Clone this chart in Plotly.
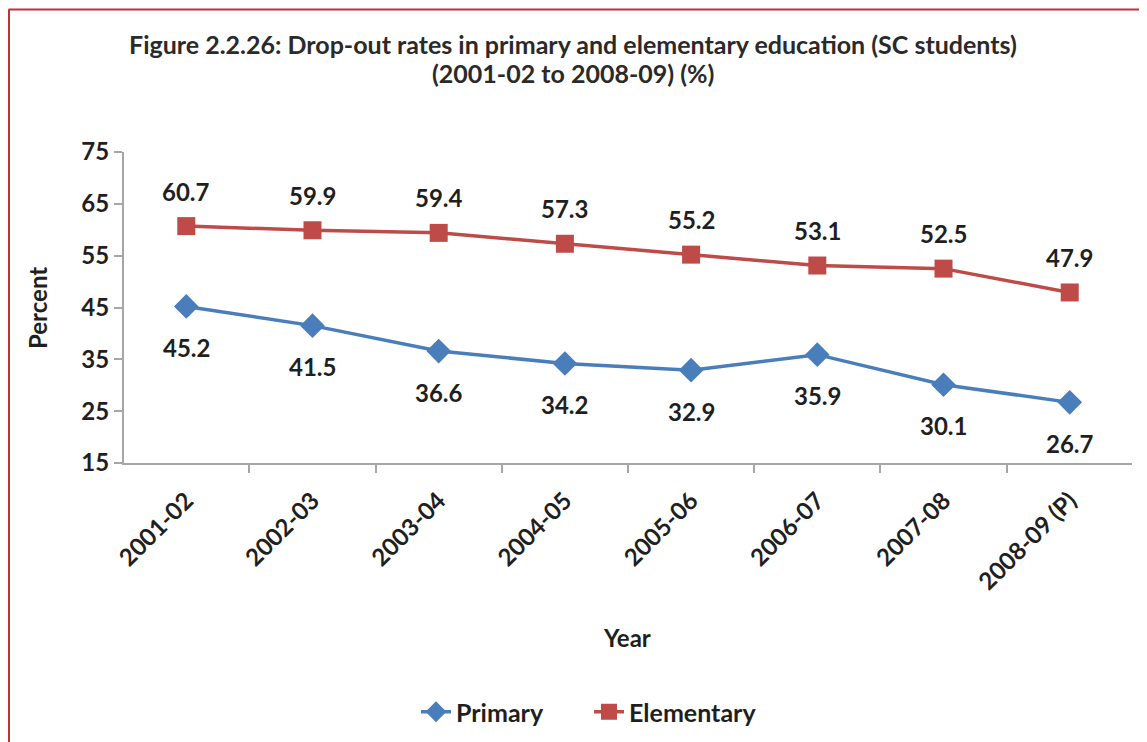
import plotly.graph_objects as go

years = ["2001-02", "2002-03", "2003-04", "2004-05", "2005-06", "2006-07", "2007-08", "2008-09 (P)"]
primary = [45.2, 41.5, 36.6, 34.2, 32.9, 35.9, 30.1, 26.7]
elementary = [60.7, 59.9, 59.4, 57.3, 55.2, 53.1, 52.5, 47.9]
y_ticks = [15, 25, 35, 45, 55, 65, 75]

FONT = "Lato, 'Open Sans', sans-serif"
BLUE = "#4A7EBB"
RED = "#BE4B48"
AXIS = "#A6A6A6"
TXT = "#1f1f1f"

# page body has an 8px default margin; screen coordinates below are compensated
OFF = 8
W, H = 1147, 742
ml, mt = 124 - OFF, 152 - OFF
pw = 1132 - 124
ph = 463 - 152
mr = W - ml - pw
mb = H - mt - ph


def px_x(x):
    return (x - OFF - ml) / pw


def px_y(y):
    return (mt + ph - (y - OFF)) / ph


fig = go.Figure()
fig.add_trace(go.Scatter(
    x=years, y=primary, name="Primary", mode="lines+markers",
    line=dict(color=BLUE, width=3.5),
    marker=dict(symbol="diamond", size=19, color=BLUE),
    legend="legend",
))
fig.add_trace(go.Scatter(
    x=years, y=elementary, name="Elementary", mode="lines+markers",
    line=dict(color=RED, width=3.5),
    marker=dict(symbol="square", size=18, color=RED),
    legend="legend2",
))

annotations = []
for yr, v in zip(years, elementary):
    annotations.append(dict(x=yr, y=v, text=f"{v:.1f}", showarrow=False, yshift=35,
                            font=dict(family=FONT, size=24, color=TXT, weight="bold")))
for yr, v in zip(years, primary):
    annotations.append(dict(x=yr, y=v, text=f"{v:.1f}", showarrow=False, yshift=-41,
                            font=dict(family=FONT, size=24, color=TXT, weight="bold")))

annotations.append(dict(xref="paper", yref="paper", x=px_x(573), y=px_y(44),
                        text="Figure 2.2.26: Drop-out rates in primary and elementary education (SC students)",
                        showarrow=False, xanchor="center", yanchor="middle",
                        font=dict(family=FONT, size=25, color="#2a2a2a", weight="bold")))
annotations.append(dict(xref="paper", yref="paper", x=px_x(573), y=px_y(73),
                        text="(2001-02 to 2008-09) (%)",
                        showarrow=False, xanchor="center", yanchor="middle",
                        font=dict(family=FONT, size=25, color="#2a2a2a", weight="bold")))
annotations.append(dict(xref="paper", yref="paper", x=px_x(37), y=px_y(308),
                        text="Percent", textangle=-90, showarrow=False,
                        xanchor="center", yanchor="middle",
                        font=dict(family=FONT, size=24, color=TXT, weight="bold")))
annotations.append(dict(xref="paper", yref="paper", x=px_x(627), y=px_y(637),
                        text="Year", showarrow=False,
                        xanchor="center", yanchor="middle",
                        font=dict(family=FONT, size=24, color=TXT, weight="bold")))

shapes = [
    dict(type="line", xref="paper", yref="paper", x0=px_x(8.5), x1=px_x(W + 20),
         y0=px_y(9.5), y1=px_y(9.5), line=dict(color="#C0313A", width=2)),
    dict(type="line", xref="paper", yref="paper", x0=px_x(9), x1=px_x(9),
         y0=px_y(9.5), y1=px_y(H + 20), line=dict(color="#C0313A", width=2)),
]

legend_font = dict(family=FONT, size=25, color=TXT, weight="bold")

fig.update_layout(
    width=W, height=H,
    margin=dict(l=ml, r=mr, t=mt, b=mb),
    paper_bgcolor="white", plot_bgcolor="white",
    showlegend=True,
    legend=dict(orientation="h", x=px_x(416), y=px_y(712), xanchor="left", yanchor="middle",
                font=legend_font, bgcolor="rgba(0,0,0,0)"),
    legend2=dict(orientation="h", x=px_x(589), y=px_y(712), xanchor="left", yanchor="middle",
                 font=legend_font, bgcolor="rgba(0,0,0,0)"),
    annotations=annotations,
    shapes=shapes,
    xaxis=dict(
        type="category", showline=True, linecolor=AXIS, linewidth=2,
        ticks="outside", tickson="boundaries", ticklen=8, tickcolor=AXIS, tickwidth=2,
        tickangle=-45, showgrid=False, zeroline=False, ticklabelstandoff=12,
        tickfont=dict(family=FONT, size=24, color=TXT, weight="bold"),
    ),
    yaxis=dict(
        range=[15, 75], tickvals=y_ticks, showline=True, linecolor=AXIS, linewidth=2,
        ticks="outside", ticklen=8, tickcolor=AXIS, tickwidth=2,
        showgrid=False, zeroline=False,
        tickfont=dict(family=FONT, size=24, color=TXT, weight="bold"),
    ),
)

fig.write_html("out.html")
